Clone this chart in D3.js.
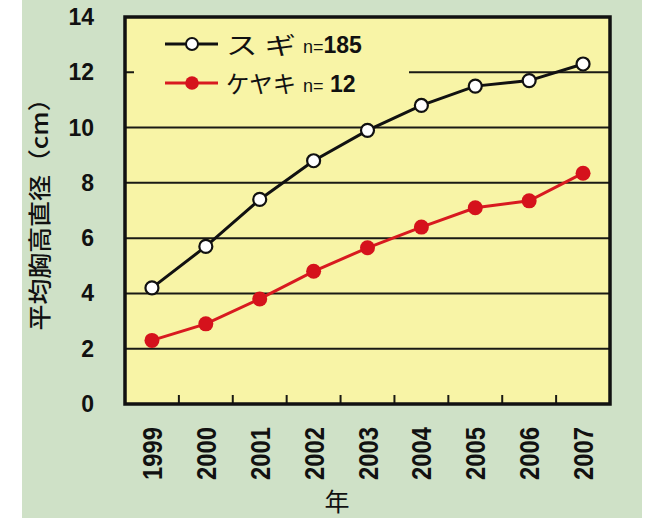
<!DOCTYPE html>
<html>
<head>
<meta charset="utf-8">
<script src="https://cdn.jsdelivr.net/npm/d3@7"></script>
<style>
body{margin:0;background:#fff;}
svg{display:block;}
</style>
</head>
<body>
<script>
// data
var years=["1999","2000","2001","2002","2003","2004","2005","2006","2007"];
var sugi=[4.2,5.7,7.4,8.8,9.9,10.8,11.5,11.7,12.3];
var keyaki=[2.3,2.9,3.8,4.8,5.65,6.4,7.1,7.35,8.35];
var yTicks=[0,2,4,6,8,10,12,14];
var seriesNames=["ス ギ","ケヤキ"];
var seriesN=["185"," 12"];

var W=652,H=518;
var pl=125,pr=610,pt=17,pb=404;

var svg=d3.select("body").append("svg").attr("width",W).attr("height",H);

// green panel
svg.append("rect").attr("x",22).attr("y",0).attr("width",620).attr("height",H).attr("fill","#cfe1c7");

var x=d3.scaleBand().domain(years).range([pl,pr]).padding(0);
var y=d3.scaleLinear().domain([0,14]).range([pb,pt]);

// plot fill
svg.append("rect").attr("x",pl).attr("y",pt).attr("width",pr-pl).attr("height",pb-pt).attr("fill","#f8f4a6");

// grid lines
svg.append("g").selectAll("line").data(yTicks.filter(function(d){return d>0&&d<14}))
 .enter().append("line")
 .attr("x1",pl).attr("x2",pr)
 .attr("y1",function(d){return y(d)}).attr("y2",function(d){return y(d)})
 .attr("stroke","#1a1a14").attr("stroke-width",2);

// legend box hides part of the 12 line
svg.append("rect").attr("x",134).attr("y",24).attr("width",275).attr("height",80).attr("fill","#f8f4a6");

// x ticks between years (inside, upward)
svg.append("g").selectAll("line").data(years.slice(1))
 .enter().append("line")
 .attr("x1",function(d){return x(d)}).attr("x2",function(d){return x(d)})
 .attr("y1",pb).attr("y2",pb-9)
 .attr("stroke","#1a1a14").attr("stroke-width",2);

// border
svg.append("rect").attr("x",pl).attr("y",pt).attr("width",pr-pl).attr("height",pb-pt)
 .attr("fill","none").attr("stroke","#111").attr("stroke-width",3.5);

// y labels
svg.append("g").selectAll("text").data(yTicks).enter().append("text")
 .attr("x",94).attr("y",function(d){return y(d)+8})
 .attr("text-anchor","end")
 .style("font-family","'Liberation Sans',Arial,sans-serif").style("font-weight","bold").style("font-size","23px")
 .attr("fill","#111")
 .text(function(d){return d});

// x labels, rotated
svg.append("g").selectAll("text").data(years).enter().append("text")
 .attr("transform",function(d){return "translate("+(x(d)+x.bandwidth()/2+10)+",427) rotate(-90)"})
 .attr("text-anchor","end")
 .attr("textLength",53).attr("lengthAdjust","spacingAndGlyphs")
 .style("font-family","'Liberation Sans',Arial,sans-serif").style("font-weight","bold").style("font-size","28px")
 .attr("fill","#111")
 .text(function(d){return d});

// axis titles
svg.append("text")
 .attr("transform","translate(48,208) rotate(-90)")
 .attr("text-anchor","middle")
 .attr("textLength",245).attr("lengthAdjust","spacingAndGlyphs")
 .style("font-family","'Noto Sans CJK JP',sans-serif").style("font-size","23px").style("font-weight","500")
 .attr("fill","#111")
 .text("平均胸高直径（cm）");
svg.append("text").attr("x",337).attr("y",511).attr("text-anchor","middle")
 .style("font-family","'Noto Sans CJK JP',sans-serif").style("font-size","25px")
 .attr("fill","#111").text("年");

// series
var cx=function(d,i){return x(years[i])+x.bandwidth()/2};
var line=d3.line().x(cx).y(function(d){return y(d)});

svg.append("path").datum(keyaki).attr("d",line).attr("fill","none").attr("stroke","#d81a20").attr("stroke-width",3);
svg.append("g").selectAll("circle").data(keyaki).enter().append("circle")
 .attr("cx",cx).attr("cy",function(d){return y(d)}).attr("r",7.5).attr("fill","#d5121c");

svg.append("path").datum(sugi).attr("d",line).attr("fill","none").attr("stroke","#111").attr("stroke-width",3);
svg.append("g").selectAll("circle").data(sugi).enter().append("circle")
 .attr("cx",cx).attr("cy",function(d){return y(d)}).attr("r",6.5).attr("fill","#fff")
 .attr("stroke","#111").attr("stroke-width",2.2);

// legend
var lg=svg.append("g");
var rows=[{c:"#111",fill:"#fff",y:44},{c:"#d81a20",fill:"#d5121c",y:83}];
rows.forEach(function(r,i){
 lg.append("line").attr("x1",165).attr("x2",218).attr("y1",r.y).attr("y2",r.y).attr("stroke",r.c).attr("stroke-width",3);
 var c=lg.append("circle").attr("cx",192).attr("cy",r.y).attr("r",i==0?6:6.8).attr("fill",r.fill);
 if(i==0)c.attr("stroke","#111").attr("stroke-width",2);
 lg.append("text").attr("x",226).attr("y",r.y+10)
  .attr("textLength",70).attr("lengthAdjust","spacingAndGlyphs")
  .style("font-family","'Noto Sans CJK JP',sans-serif").style("font-size","24px").attr("fill","#111")
  .text(seriesNames[i]);
 var t=lg.append("text").attr("x",303).attr("y",r.y+9)
  .style("font-family","'Liberation Sans',Arial,sans-serif").attr("fill","#111");
 t.append("tspan").style("font-size","18px").text("n=");
 t.append("tspan").style("font-size","23px").style("font-weight","bold").style("white-space","pre").text(seriesN[i]);
});
</script>
</body>
</html>
